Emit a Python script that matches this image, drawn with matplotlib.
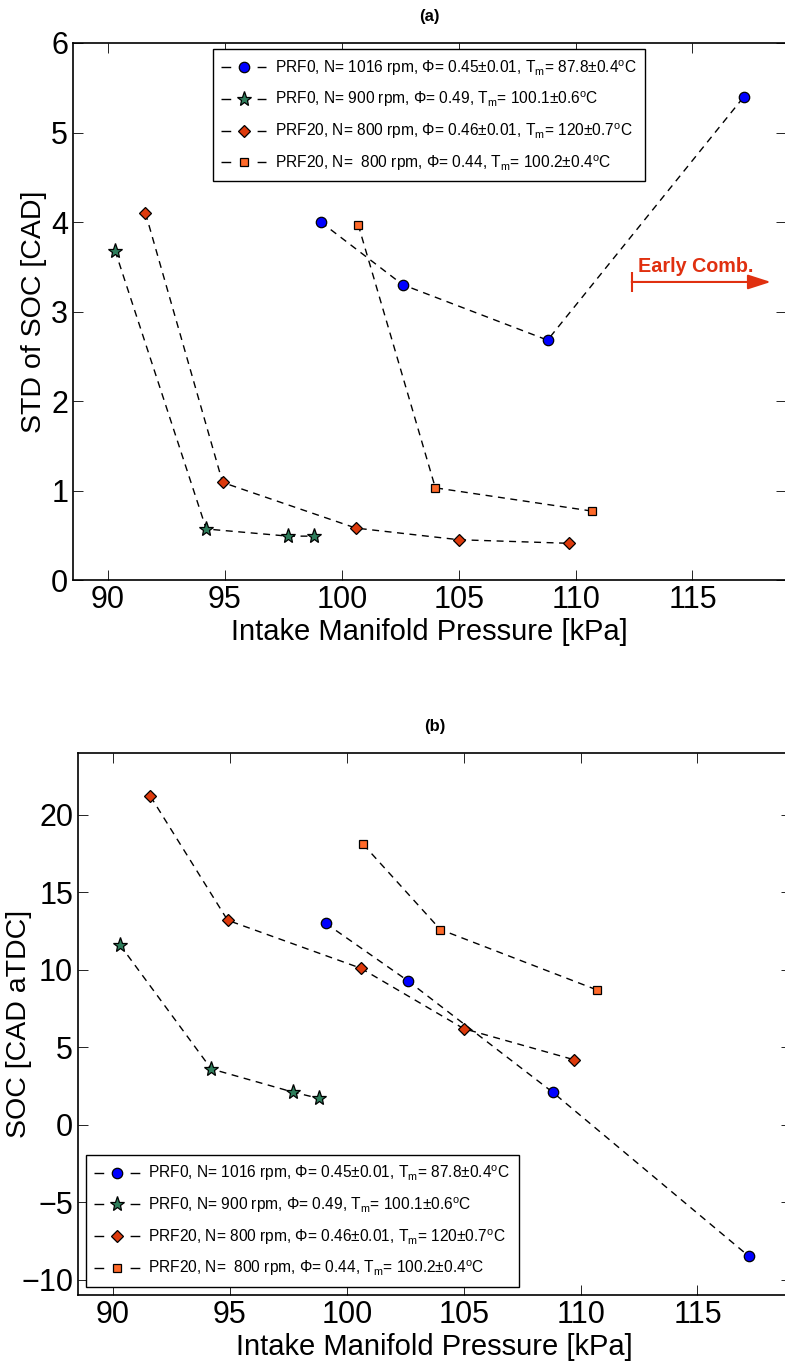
import numpy as np
import matplotlib
matplotlib.use("Agg")
import matplotlib.pyplot as plt

plt.rcParams['font.family'] = ['Liberation Sans', 'DejaVu Sans']
plt.rcParams['mathtext.fontset'] = 'custom'
plt.rcParams['mathtext.rm'] = 'Liberation Sans'
plt.rcParams['mathtext.it'] = 'Liberation Sans:italic'

# intake manifold pressure [kPa] for each series
p_prf0_1016 = [99.1, 102.6, 108.8, 117.2]
p_prf0_900 = [90.3, 94.2, 97.7, 98.8]
p_prf20_120 = [91.6, 94.9, 100.6, 105.0, 109.7]
p_prf20_100 = [100.7, 104.0, 110.7]

# (a) STD of SOC [CAD]
std_prf0_1016 = [4.0, 3.3, 2.68, 5.4]
std_prf0_900 = [3.68, 0.57, 0.49, 0.49]
std_prf20_120 = [4.1, 1.09, 0.58, 0.45, 0.41]
std_prf20_100 = [3.97, 1.03, 0.77]

# (b) SOC [CAD aTDC]
soc_prf0_1016 = [13.0, 9.3, 2.1, -8.5]
soc_prf0_900 = [11.6, 3.6, 2.1, 1.7]
soc_prf20_120 = [21.2, 13.2, 10.1, 6.2, 4.2]
soc_prf20_100 = [18.1, 12.6, 8.7]

labels = [
    r'PRF0, N= 1016 rpm, $\Phi$= 0.45$\pm$0.01, T$_\mathrm{m}$= 87.8$\pm$0.4$^\mathrm{o}$C',
    r'PRF0, N= 900 rpm, $\Phi$= 0.49, T$_\mathrm{m}$= 100.1$\pm$0.6$^\mathrm{o}$C',
    r'PRF20, N= 800 rpm, $\Phi$= 0.46$\pm$0.01, T$_\mathrm{m}$= 120$\pm$0.7$^\mathrm{o}$C',
    r'PRF20, N=  800 rpm, $\Phi$= 0.44, T$_\mathrm{m}$= 100.2$\pm$0.4$^\mathrm{o}$C',
]
markers = ['o', '*', 'D', 's']
sizes = [7.5, 11, 6.5, 6]
colors = ['#0000ff', '#2e7d5b', '#dd3a0c', '#ff6a2a']

xs = [p_prf0_1016, p_prf0_900, p_prf20_120, p_prf20_100]
ys_a = [std_prf0_1016, std_prf0_900, std_prf20_120, std_prf20_100]
ys_b = [soc_prf0_1016, soc_prf0_900, soc_prf20_120, soc_prf20_100]

fig = plt.figure(figsize=(7.85, 13.64), dpi=100)
W, H = 785.0, 1364.0
ax1 = fig.add_axes([73 / W, 1 - 580 / H, 713 / W, 537 / H])
ax2 = fig.add_axes([78 / W, 1 - 1295 / H, 713 / W, 542 / H])


def draw(ax, ys):
    for x, y, m, s, c, lab in zip(xs, ys, markers, sizes, colors, labels):
        ax.plot(x, y, linestyle=(0, (5, 4)), color='black', linewidth=1.0,
                marker=m, markersize=s, markerfacecolor=c,
                markeredgecolor='black', markeredgewidth=0.9, label=lab)
    ax.set_xlim(88.5, 119)
    ax.set_xticks([90, 95, 100, 105, 110, 115])
    ax.tick_params(direction='in', top=True, right=True, labelsize=22,
                   length=7, width=0.6)
    for sp in ax.spines.values():
        sp.set_linewidth(1.2)
    ax.set_xlabel('Intake Manifold Pressure [kPa]', fontsize=21, labelpad=2)


def add_legend(ax, anchor, loc):
    leg = ax.legend(loc=loc, bbox_to_anchor=anchor, borderaxespad=0,
                    prop={'size': 11.2}, handlelength=2.9, handletextpad=0.55,
                    frameon=True, fancybox=False, edgecolor='black',
                    framealpha=1, labelspacing=0.78, borderpad=0.55)
    leg.get_frame().set_linewidth(1.0)
    for ln in leg.get_lines():
        ln.set_linestyle((0, (7, 19)))
    return leg


draw(ax1, ys_a)
ax1.set_ylim(0, 6)
ax1.set_yticks([0, 1, 2, 3, 4, 5, 6])
ax1.set_ylabel('STD of SOC [CAD]', fontsize=20.5)
ax1.yaxis.set_label_coords(-0.037, 0.5)
ax1.set_title('(a)', fontsize=12, fontweight='bold', pad=16)
add_legend(ax1, (0.196, 0.988), 'upper left')

# "Early Comb." arrow with a bar at its start
ax1.annotate('', xy=(118.35, 3.33), xytext=(112.4, 3.33),
             arrowprops=dict(arrowstyle='-|>,head_length=1.4,head_width=0.45',
                             color='#e03010', lw=1.5, shrinkA=0, shrinkB=0))
ax1.plot([112.4], [3.33], marker='|', markersize=14, markeredgewidth=1.5,
         color='#e03010')
ax1.text(112.65, 3.44, 'Early Comb.', color='#e03010', fontsize=14.2,
         fontweight='bold', ha='left', va='baseline')

draw(ax2, ys_b)
ax2.set_ylim(-11, 24)
ax2.set_yticks([-10, -5, 0, 5, 10, 15, 20])
ax2.set_yticklabels(['\u221210', '\u22125', '0', '5', '10', '15', '20'])
ax2.set_ylabel('SOC [CAD aTDC]', fontsize=20.5)
ax2.yaxis.set_label_coords(-0.065, 0.5)
ax2.set_title('(b)', fontsize=12, fontweight='bold', pad=16)
add_legend(ax2, (0.011, 0.015), 'lower left')

fig.savefig('out.png', dpi=100)
